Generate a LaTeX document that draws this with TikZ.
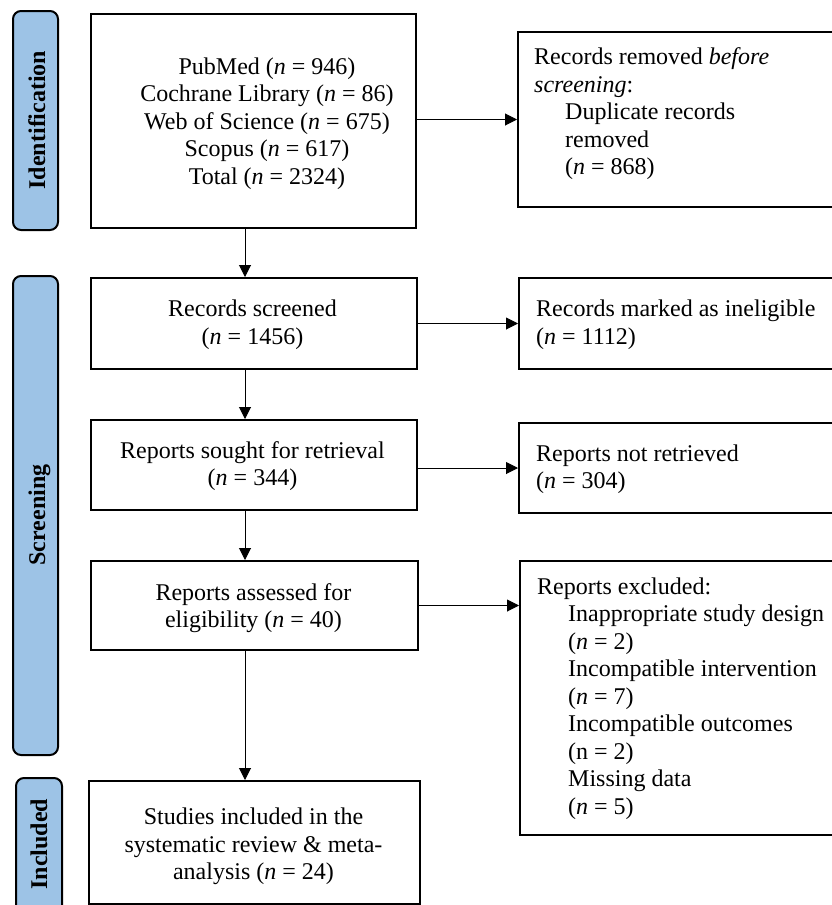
\documentclass[tikz,border=0pt]{standalone}
\usepackage{fontspec}
\setmainfont{Liberation Serif}
\usetikzlibrary{arrows.meta}
\definecolor{lblblue}{HTML}{9DC3E6}
\begin{document}
\begin{tikzpicture}[x=1pt,y=-1pt,
  box/.style={draw=black, line width=2pt, rectangle, inner sep=0pt, anchor=north west},
  lbl/.style={draw=black, line width=2pt, fill=lblblue, rounded corners=8pt, inner sep=0pt, anchor=north west},
  lbltext/.style={rotate=90, anchor=base, inner sep=0pt, font=\fontsize{24}{28}\selectfont\bfseries},
  txt/.style={inner sep=0pt, font=\fontsize{24}{27.5}\selectfont},
  ctxt/.style={txt, align=center, anchor=north},
  ltxt/.style={txt, align=left, anchor=north west},
  arr/.style={line width=1pt, -{Triangle[length=12pt,width=12pt]}}
]
\useasboundingbox (0,0) rectangle (832,905);
\clip (0,0) rectangle (832,905);

% phase labels
\node[lbl, minimum width=45pt, minimum height=219pt] (l1) at (12,10) {};
\node[lbltext] (lt1) at (45,120) {Identification};
\node[lbl, minimum width=45pt, minimum height=479pt] (l2) at (12,275) {};
\node[lbltext] (lt2) at (45,515) {Screening};
\node[lbl, minimum width=46pt, minimum height=150pt] (l3) at (15,777) {};
\node[lbltext] (lt3) at (47,844) {Included};

% main column boxes
\node[box, minimum width=325pt, minimum height=214pt] (b1) at (90,13) {};
\node[box, minimum width=326pt, minimum height=91pt] (b2) at (90,277) {};
\node[box, minimum width=326pt, minimum height=90pt] (b3) at (90,419) {};
\node[box, minimum width=327pt, minimum height=89pt] (b4) at (90,560) {};
\node[box, minimum width=331pt, minimum height=123pt] (b5) at (88,780) {};

\node[ctxt] (t1) at (267,57.6) {PubMed (\textit{n} = 946)\\Cochrane Library (\textit{n} = 86)\\Web of Science (\textit{n} = 675)\\Scopus (\textit{n} = 617)\\Total (\textit{n} = 2324)};
\node[ctxt] (t2) at (252.5,300) {Records screened\\(\textit{n} = 1456)};
\node[ctxt] (t3) at (252.5,441) {Reports sought for retrieval\\(\textit{n} = 344)};
\node[ctxt] (t4) at (253.5,583) {Reports assessed for\\eligibility (\textit{n} = 40)};
\node[ctxt] (t5) at (253.5,808) {Studies included in the\\systematic review \& meta-\\analysis (\textit{n} = 24)};

% right column boxes
\node[box, minimum width=333pt, minimum height=175pt] (rb1) at (517,31) {};
\node[box, minimum width=333pt, minimum height=91pt] (rb2) at (518,277) {};
\node[box, minimum width=333pt, minimum height=90pt] (rb3) at (518,422) {};
\node[box, minimum width=333pt, minimum height=274pt] (rb4) at (519,560) {};

\node[ltxt] (r1) at (534,47.6) {Records removed \textit{before}\\\textit{screening}:\\\hspace*{31pt}Duplicate records\\\hspace*{31pt}removed\\\hspace*{31pt}(\textit{n} = 868)};
\node[ltxt] (r2) at (536,300) {Records marked as ineligible\\(\textit{n} = 1112)};
\node[ltxt] (r3) at (536,444.5) {Reports not retrieved\\(\textit{n} = 304)};
\node[ltxt] (r4) at (537,577.6) {Reports excluded:\\\hspace*{31pt}Inappropriate study design\\\hspace*{31pt}(\textit{n} = 2)\\\hspace*{31pt}Incompatible intervention\\\hspace*{31pt}(\textit{n} = 7)\\\hspace*{31pt}Incompatible outcomes\\\hspace*{31pt}(n = 2)\\\hspace*{31pt}Missing data\\\hspace*{31pt}(\textit{n} = 5)};

% connectors
\coordinate (ax) at (245,0);
\draw[arr] (b1.south -| ax) -- (b2.north -| ax);
\draw[arr] (b2.south -| ax) -- (b3.north -| ax);
\draw[arr] (b3.south -| ax) -- (b4.north -| ax);
\draw[arr] (b4.south -| ax) -- (b5.north -| ax);

\draw[arr] (rb1.west -| b1.east) -- (rb1.west);
\draw[arr] (rb2.west -| b2.east) -- (rb2.west);
\draw[arr] (rb3.west -| b3.east) -- (rb3.west);
\draw[arr] (b4.east) -- (b4.east -| rb4.west);
\end{tikzpicture}
\end{document}
